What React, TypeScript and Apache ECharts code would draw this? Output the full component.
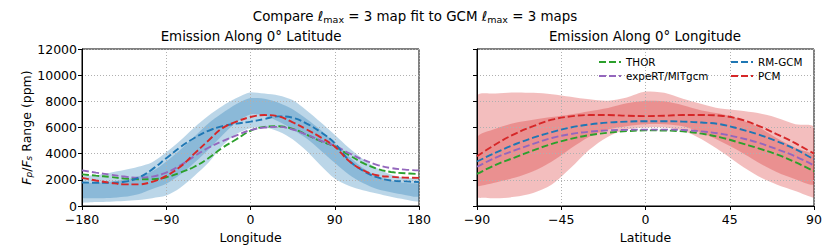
import React, { useEffect, useRef } from 'react';
import * as echarts from 'echarts';

// ---------- Data: left panel (Emission along 0° latitude) ----------
const LON = [-180, -165, -150, -135, -120, -105, -90, -75, -60, -45, -30, -15, 0, 15, 30, 45, 60, 75, 90, 105, 120, 135, 150, 165, 180];

const LON_THOR = [2420, 2320, 2220, 2100, 2050, 2050, 2200, 2550, 3000, 3650, 4450, 5100, 5750, 6050, 6100, 5900, 5450, 4950, 4550, 3900, 3300, 2850, 2600, 2500, 2450];
const LON_EXPERT = [2720, 2550, 2400, 2250, 2170, 2250, 2550, 3100, 3800, 4450, 4950, 5400, 5800, 6000, 6050, 5850, 5450, 5000, 4600, 4050, 3550, 3150, 2900, 2780, 2720];
const LON_RMGCM = [1800, 1780, 1780, 1850, 2150, 2800, 3650, 4500, 5200, 5750, 6100, 6300, 6450, 6650, 6850, 6750, 6300, 5650, 4800, 3500, 2700, 2200, 1950, 1880, 1830];
const LON_PCM = [2150, 1950, 1780, 1650, 1650, 1850, 2300, 3000, 4000, 5000, 5950, 6450, 6800, 6950, 6850, 6400, 5850, 5250, 4550, 3450, 2750, 2350, 2230, 2170, 2150];

const LON_OUT_HI = [2200, 2350, 2550, 2750, 3000, 3350, 4100, 5000, 6000, 6900, 7650, 8250, 8700, 8600, 8450, 8100, 7300, 6400, 5450, 4450, 3600, 2900, 2400, 2150, 2050];
const LON_IN_HI = [1700, 1750, 1850, 2000, 2250, 2650, 3400, 4300, 5300, 6300, 7100, 7800, 8250, 8200, 7900, 7400, 6650, 5800, 4800, 3800, 2900, 2300, 1950, 1750, 1650];
const LON_IN_LO = [600, 600, 620, 700, 900, 1300, 1700, 2400, 3300, 4300, 5400, 6400, 7000, 6900, 6450, 5850, 5150, 4250, 3300, 2400, 1750, 1300, 1050, 850, 750];
const LON_OUT_LO = [250, 300, 330, 380, 450, 600, 800, 1400, 2300, 3300, 4600, 5500, 5950, 6000, 5700, 5100, 4200, 3100, 2100, 1550, 1200, 950, 700, 500, 380];

// ---------- Data: right panel (Emission along 0° longitude) ----------
const LAT = [-90, -80, -70, -60, -50, -40, -30, -20, -10, 0, 10, 20, 30, 40, 50, 60, 70, 80, 90];

const LAT_THOR = [2450, 3150, 3700, 4250, 4750, 5130, 5420, 5600, 5720, 5780, 5770, 5700, 5530, 5250, 4850, 4420, 3950, 3350, 2650];
const LAT_EXPERT = [3000, 3700, 4250, 4750, 5200, 5500, 5680, 5780, 5820, 5840, 5840, 5810, 5700, 5530, 5230, 4850, 4350, 3800, 3100];
const LAT_RMGCM = [3400, 4080, 4700, 5220, 5650, 6000, 6230, 6380, 6450, 6480, 6480, 6450, 6380, 6250, 5900, 5480, 4950, 4350, 3550];
const LAT_PCM = [3800, 4720, 5500, 6100, 6600, 6850, 6950, 6950, 6900, 6870, 6900, 6950, 6950, 6900, 6650, 6150, 5500, 4800, 4000];

const LAT_OUT_HI = [8400, 8600, 8680, 8650, 8550, 8350, 8150, 8050, 8300, 8750, 8650, 8200, 7800, 7450, 7300, 7100, 6750, 6250, 6000];
const LAT_IN_HI = [5200, 5900, 6350, 6600, 6800, 7000, 7250, 7500, 7850, 8050, 8000, 7700, 7300, 7050, 6650, 6050, 5200, 4450, 3800];
const LAT_IN_LO = [1500, 1800, 2150, 2650, 3400, 4400, 5300, 5850, 6100, 6250, 6250, 6100, 5600, 4950, 4200, 3350, 2600, 2050, 1650];
const LAT_OUT_LO = [650, 600, 700, 1000, 1650, 2900, 4300, 5300, 5850, 6000, 6000, 5750, 5100, 4200, 3200, 2300, 1650, 1150, 650];

const Y_MAX = 12000;

const COLORS: Record<string, string> = {
  THOR: '#2ca02c',
  'expeRT/MITgcm': '#9467bd',
  'RM-GCM': '#1f77b4',
  PCM: '#d62728',
};

const FONT = 'DejaVu Sans';
const TITLE_SIZE = 13.4;

function pairs(xs: number[], ys: number[]) {
  return xs.map((x, i) => [x, ys[i]]);
}

function band(xs: number[], lo: number[], hi: number[], color: string, idx: number) {
  return {
    type: 'custom',
    xAxisIndex: idx,
    yAxisIndex: idx,
    silent: true,
    clip: true,
    z: 1,
    data: xs.map((x, i) => [x, lo[i], hi[i]]),
    encode: { x: 0, y: [1, 2] },
    renderItem: (params: any, api: any) => {
      if (params.dataIndex !== 0) return null;
      const top = xs.map((x, i) => api.coord([x, hi[i]]));
      const bottom = xs.map((x, i) => api.coord([x, lo[i]])).reverse();
      const pts = top.concat(bottom);
      return {
        type: 'polygon',
        shape: { points: pts, smooth: 0.3, smoothConstraint: [pts[0], pts[0]] },
        style: { fill: color },
        silent: true,
      };
    },
  };
}

function line(name: string, xs: number[], ys: number[], idx: number) {
  return {
    type: 'line',
    name,
    xAxisIndex: idx,
    yAxisIndex: idx,
    data: pairs(xs, ys),
    symbol: 'none',
    smooth: 0.4,
    lineStyle: { color: COLORS[name], width: 1.9, type: [7, 3] },
    itemStyle: { color: COLORS[name] },
    z: 5,
  };
}

const minus = (v: number) => String(v).replace('-', '\u2212');

function xAxisCfg(idx: number, min: number, max: number, interval: number, name: string) {
  return {
    type: 'value',
    gridIndex: idx,
    min,
    max,
    interval,
    z: 3,
    name,
    nameLocation: 'middle',
    nameGap: 24,
    nameTextStyle: { fontFamily: FONT, fontSize: 12.5, color: '#000' },
    axisLine: { show: true, onZero: false, lineStyle: { color: '#000', width: 1 } },
    axisTick: { show: true, length: 4, lineStyle: { color: '#000', width: 1 } },
    axisLabel: {
      show: true,
      formatter: minus,
      fontFamily: FONT,
      fontSize: 12.5,
      color: '#000',
      margin: 7,
      showMinLabel: true,
      showMaxLabel: true,
      hideOverlap: false,
    },
    splitLine: { show: true, lineStyle: { color: '#b0b0b0', width: 1, type: [1, 2] } },
  };
}

function yAxisCfg(idx: number, labels: boolean) {
  return {
    type: 'value',
    gridIndex: idx,
    min: 0,
    max: Y_MAX,
    interval: 2000,
    z: 3,
    name: labels ? '{i|F}{s|p}{n|/}{i|F}{s|s}{n| Range (ppm)}' : '',
    nameLocation: 'middle',
    nameRotate: 90,
    nameGap: 42,
    nameTextStyle: {
      fontFamily: FONT,
      fontSize: 12.5,
      color: '#000',
      rich: {
        i: { fontFamily: FONT, fontSize: 12.5, fontStyle: 'italic', color: '#000' },
        s: { fontFamily: FONT, fontSize: 9, fontStyle: 'italic', color: '#000', padding: [5, 0, 0, 0] },
        n: { fontFamily: FONT, fontSize: 12.5, color: '#000' },
      },
    },
    axisLine: { show: true, onZero: false, lineStyle: { color: '#000', width: 1 } },
    axisTick: { show: true, length: 4, lineStyle: { color: '#000', width: 1 } },
    axisLabel: {
      show: labels,
      formatter: (v: number) => String(v),
      fontFamily: FONT,
      fontSize: 12.5,
      color: '#000',
      margin: 5,
    },
    splitLine: { show: true, lineStyle: { color: '#b0b0b0', width: 1, type: [1, 2] } },
  };
}

export default function App() {
  const ref = useRef<HTMLDivElement>(null);

  useEffect(() => {
    if (!ref.current) return;
    const chart = echarts.init(ref.current, undefined, { renderer: 'svg' });

    const lightBlue = 'rgba(31,119,180,0.3)';
    const lightRed = 'rgba(214,39,40,0.3)';

    const legendBase = {
      orient: 'vertical',
      top: 57,
      padding: 0,
      itemWidth: 22,
      itemHeight: 11,
      itemGap: 4,
      itemStyle: { opacity: 0 },
      textStyle: { fontFamily: FONT, fontSize: 10.4, color: '#000' },
    };

    const subTitle = { fontFamily: FONT, fontSize: TITLE_SIZE, fontWeight: 'normal', color: '#000' };

    const option: any = {
      animation: false,
      backgroundColor: '#fff',
      title: [
        {
          text: '{n|Compare }{i|\u2113}{s|max}{n| = 3 map fit to GCM }{i|\u2113}{s|max}{n| = 3 maps}',
          left: 415,
          top: 9,
          padding: 0,
          textAlign: 'center',
          textStyle: {
            fontFamily: FONT,
            fontSize: TITLE_SIZE,
            fontWeight: 'normal',
            color: '#000',
            rich: {
              n: { fontFamily: FONT, fontSize: TITLE_SIZE, color: '#000' },
              i: { fontFamily: FONT, fontSize: TITLE_SIZE, fontStyle: 'italic', color: '#000' },
              s: { fontFamily: FONT, fontSize: 9.5, color: '#000', padding: [5, 0, 0, 0] },
            },
          },
        },
        {
          text: 'Emission Along 0\u00b0 Latitude',
          left: 251,
          top: 30,
          padding: 0,
          textAlign: 'center',
          textStyle: subTitle,
        },
        {
          text: 'Emission Along 0\u00b0 Longitude',
          left: 645,
          top: 30,
          padding: 0,
          textAlign: 'center',
          textStyle: subTitle,
        },
      ],
      legend: [
        { ...legendBase, data: ['THOR', 'expeRT/MITgcm'], left: 598 },
        { ...legendBase, data: ['RM-GCM', 'PCM'], left: 730 },
      ],
      grid: [
        { left: 82, top: 49, width: 337, height: 157, show: true, borderColor: '#000', borderWidth: 1, backgroundColor: 'transparent' },
        { left: 477, top: 49, width: 337, height: 157, show: true, borderColor: '#000', borderWidth: 1, backgroundColor: 'transparent' },
      ],
      xAxis: [xAxisCfg(0, -180, 180, 90, 'Longitude'), xAxisCfg(1, -90, 90, 45, 'Latitude')],
      yAxis: [yAxisCfg(0, true), yAxisCfg(1, false)],
      series: [
        band(LON, LON_OUT_LO, LON_OUT_HI, lightBlue, 0),
        band(LON, LON_IN_LO, LON_IN_HI, lightBlue, 0),
        band(LAT, LAT_OUT_LO, LAT_OUT_HI, lightRed, 1),
        band(LAT, LAT_IN_LO, LAT_IN_HI, lightRed, 1),
        line('THOR', LON, LON_THOR, 0),
        line('expeRT/MITgcm', LON, LON_EXPERT, 0),
        line('RM-GCM', LON, LON_RMGCM, 0),
        line('PCM', LON, LON_PCM, 0),
        line('THOR', LAT, LAT_THOR, 1),
        line('expeRT/MITgcm', LAT, LAT_EXPERT, 1),
        line('RM-GCM', LAT, LAT_RMGCM, 1),
        line('PCM', LAT, LAT_PCM, 1),
      ],
    };

    chart.setOption(option);
    return () => chart.dispose();
  }, []);

  return (
    <div
      ref={ref}
      style={{ position: 'absolute', left: 0, top: 0, width: 830, height: 249, background: '#fff' }}
    />
  );
}
